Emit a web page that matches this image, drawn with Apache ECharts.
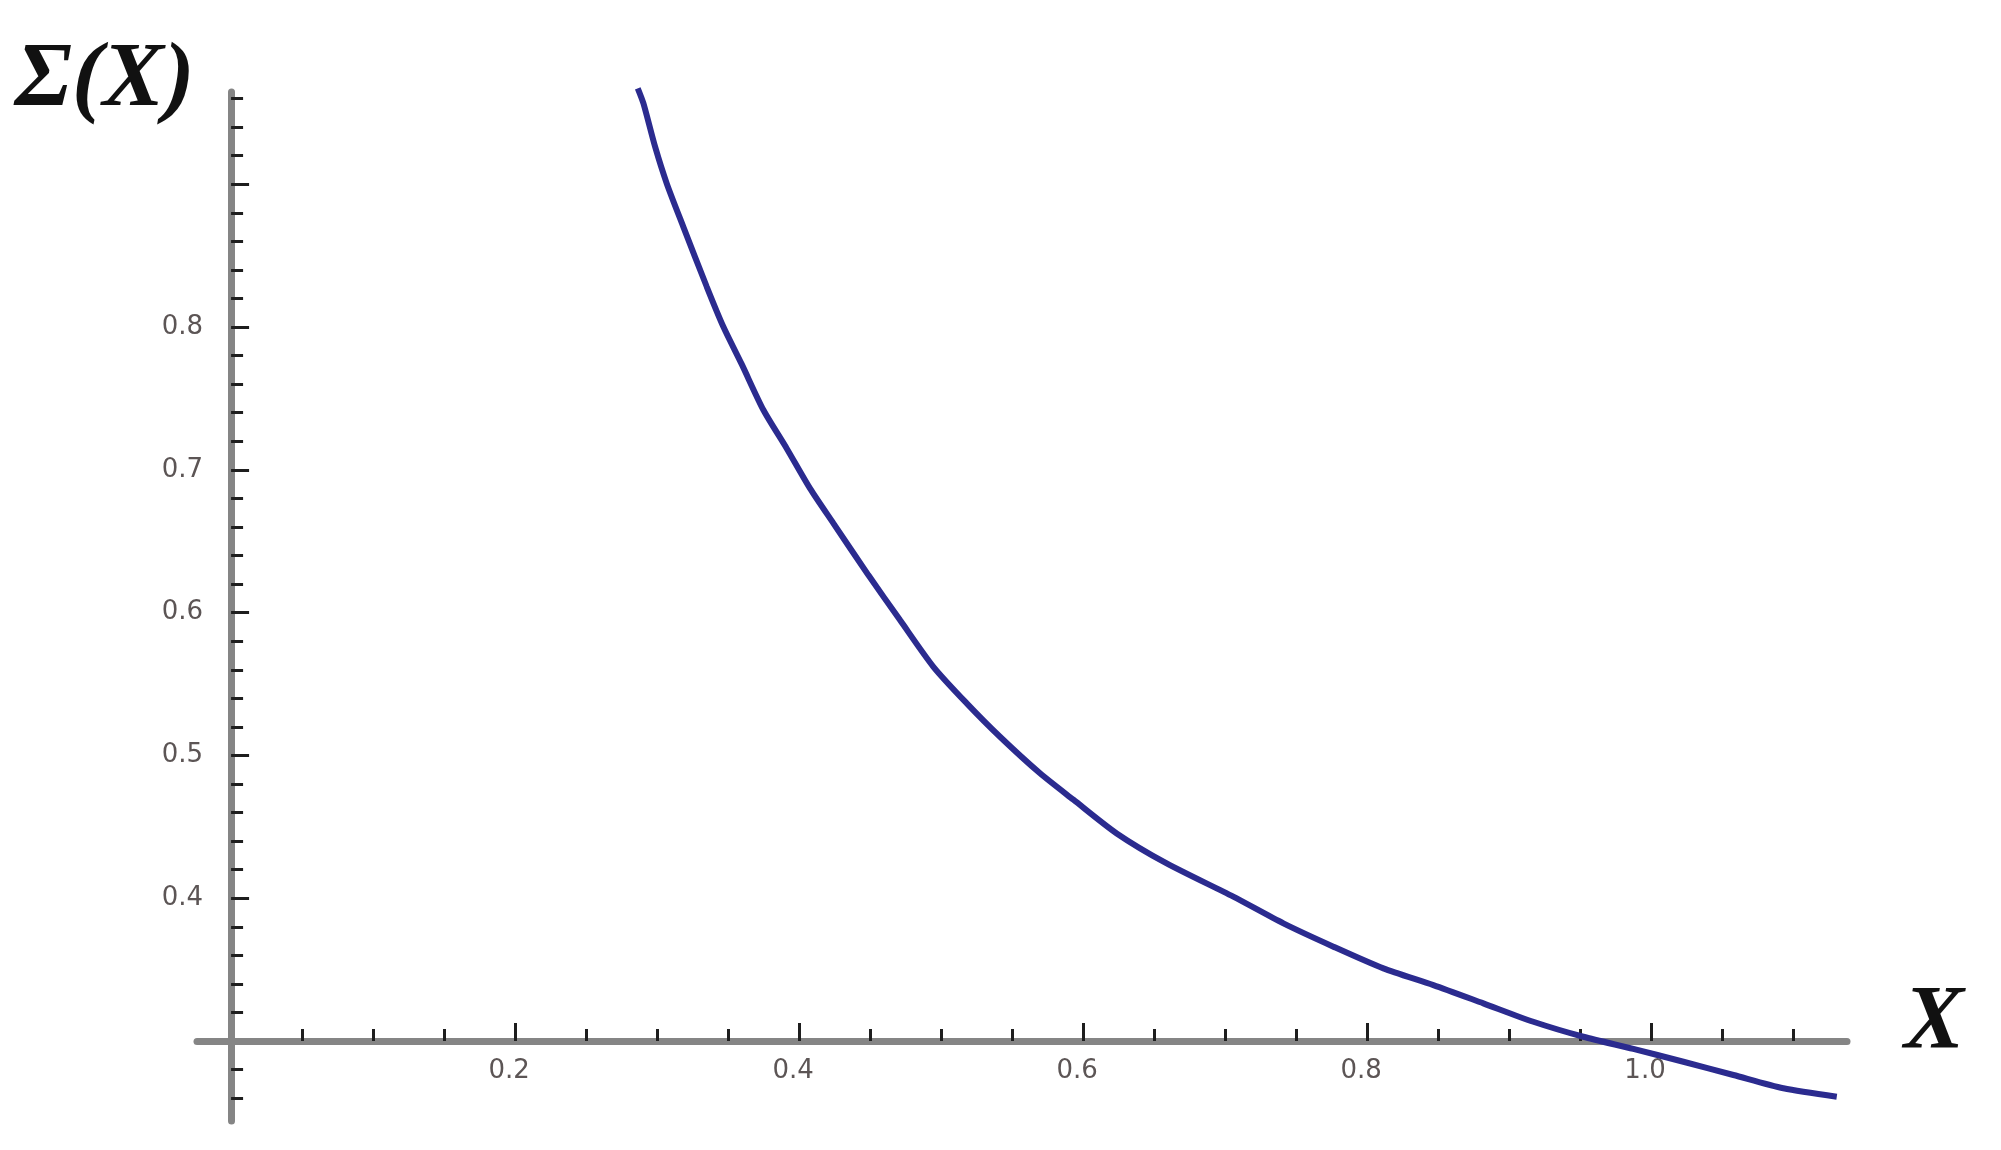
<!DOCTYPE html>
<html>
<head>
<meta charset="utf-8">
<title>Σ(X)</title>
<script src="https://cdn.jsdelivr.net/npm/echarts@6/dist/echarts.min.js"></script>
<style>
  html, body { margin: 0; padding: 0; background: #fff; }
  #main { width: 2001px; height: 1150px; }
</style>
</head>
<body>
<div id="main"></div>
<script>
// curve
const curveX = [0.2864, 0.2904, 0.2986, 0.3068, 0.3185, 0.3350, 0.3467, 0.3596, 0.3749, 0.3913,
  0.4077, 0.4242, 0.4488, 0.4711, 0.4946, 0.5181, 0.5415, 0.5697, 0.5932, 0.6237,
  0.6589, 0.7058, 0.7411, 0.7763, 0.8115, 0.8467, 0.8819, 0.9171, 0.9523, 0.9875,
  1.0228, 1.0580, 1.0932, 1.1308];
const curveY = [0.9672, 0.9566, 0.9263, 0.9006, 0.8702, 0.8282, 0.8002, 0.7740, 0.7419, 0.7150,
  0.6870, 0.6625, 0.6263, 0.5948, 0.5621, 0.5365, 0.5131, 0.4875, 0.4690, 0.4454,
  0.4244, 0.4011, 0.3824, 0.3661, 0.3509, 0.3392, 0.3264, 0.3135, 0.3030, 0.2945,
  0.2855, 0.2762, 0.2669, 0.2610];

// ticks
const xLabels = [0.2, 0.4, 0.6, 0.8, 1.0];
const yLabels = [0.4, 0.5, 0.6, 0.7, 0.8];
const xMajor = [0.2, 0.4, 0.6, 0.8, 1.0];
const yMajor = [0.4, 0.5, 0.6, 0.7, 0.8, 0.9];

// minor ticks: every 0.05 on x, 0.02 on y (origin skipped)
const xMinor = [];
for (let i = 1; i <= 22; i++) xMinor.push(+(i * 0.05).toFixed(2));
const yMinor = [];
for (let i = 13; i <= 48; i++) if (i !== 15) yMinor.push(+(i * 0.02).toFixed(2));

const axisColor = '#858585';
const tickColor = '#1e1e1e';
const labelStyle = { fontFamily: 'DejaVu Sans', fontSize: 26, color: '#5c5555' };

const xRange = { min: -0.024, max: 1.138 };
const yRange = { min: 0.244, max: 0.9646 };

const chart = echarts.init(document.getElementById('main'));
chart.setOption({
  animation: false,
  backgroundColor: '#fff',
  grid: { left: 197, right: 154, top: 92, bottom: 29 },
  xAxis: [
    {
      type: 'value', position: 'bottom', offset: -80, ...xRange,
      axisLine: { show: true, lineStyle: { color: axisColor, width: 7 } },
      axisTick: { show: true, inside: true, length: 12, customValues: xMinor,
        lineStyle: { color: tickColor, width: 3 } },
      axisLabel: { show: true, customValues: xLabels, margin: 17, padding: [0, 12, 0, 0],
        formatter: v => v.toFixed(1), ...labelStyle },
      splitLine: { show: false }
    },
    {
      type: 'value', position: 'bottom', offset: -80, ...xRange,
      axisLine: { show: false },
      axisTick: { show: true, inside: true, length: 18, customValues: xMajor,
        lineStyle: { color: tickColor, width: 3 } },
      axisLabel: { show: false },
      splitLine: { show: false }
    }
  ],
  yAxis: [
    {
      type: 'value', position: 'left', offset: -34, ...yRange,
      axisLine: { show: true, lineStyle: { color: axisColor, width: 7 } },
      axisTick: { show: true, inside: true, length: 12, customValues: yMinor,
        lineStyle: { color: tickColor, width: 3 } },
      axisLabel: { show: true, customValues: yLabels, margin: 28, padding: [0, 0, 12, 0],
        formatter: v => v.toFixed(1), ...labelStyle },
      splitLine: { show: false }
    },
    {
      type: 'value', position: 'left', offset: -34, ...yRange,
      axisLine: { show: false },
      axisTick: { show: true, inside: true, length: 18, customValues: yMajor,
        lineStyle: { color: tickColor, width: 3 } },
      axisLabel: { show: false },
      splitLine: { show: false }
    }
  ],
  graphic: [
    { type: 'text', x: 15, y: 81,
      style: { text: 'Σ(X)', font: 'italic bold 92px "Liberation Serif"', fill: '#111',
        align: 'left', verticalAlign: 'middle' } },
    { type: 'text', x: 1934, y: 1025,
      style: { text: 'X', font: 'italic bold 90px "Liberation Serif"', fill: '#111',
        align: 'center', verticalAlign: 'middle' } }
  ],
  series: [{
    type: 'line',
    xAxisIndex: 0,
    yAxisIndex: 0,
    data: curveX.map((x, i) => [x, curveY[i]]),
    showSymbol: false,
    smooth: 0.25,
    clip: false,
    lineStyle: { color: '#2b2b8f', width: 6 }
  }]
});
</script>
</body>
</html>
